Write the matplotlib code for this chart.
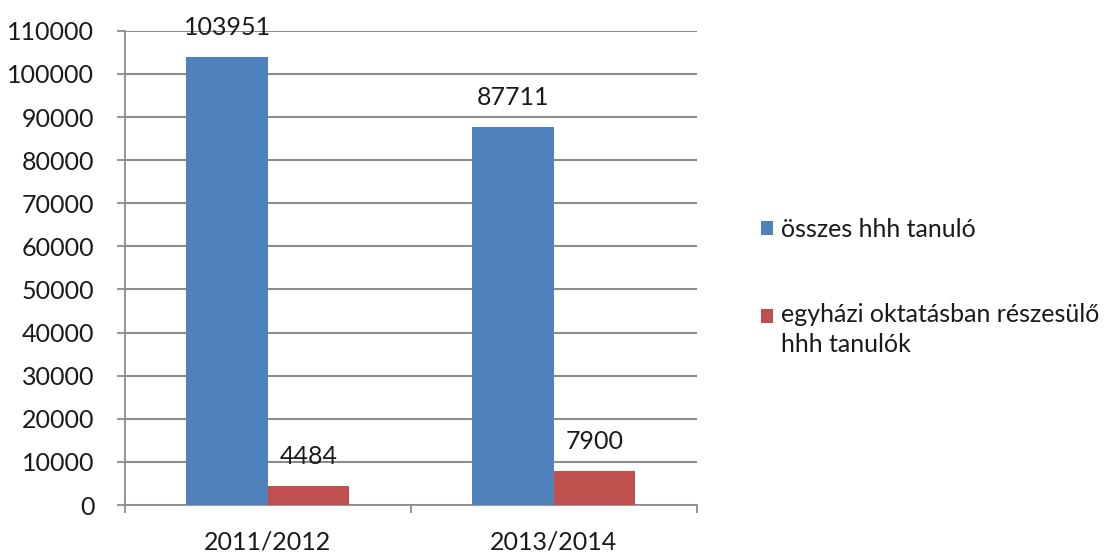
import matplotlib.pyplot as plt
import numpy as np

plt.rcParams['font.family'] = ['Lato', 'DejaVu Sans']

categories = ["2011/2012", "2013/2014"]
series_names = ["összes hhh tanuló", "egyházi oktatásban részesülő\nhhh tanulók"]
osszes = [103951, 87711]
egyhazi = [4484, 7900]
yticks = list(range(0, 110001, 10000))

blue = "#4F81BD"
red = "#C0504D"
grid_col = "#8C8C8C"
fs = 18

fig = plt.figure(figsize=(11.15, 5.54), dpi=100)
ax = fig.add_axes([0.112, 0.0884, 0.513, 0.856])

x = np.arange(len(categories))
w = 0.285
b1 = ax.bar(x - w / 2, osszes, width=w, color=blue, label=series_names[0], zorder=3)
b2 = ax.bar(x + w / 2, egyhazi, width=w, color=red, label=series_names[1], zorder=3)

for bars, vals in [(b1, osszes), (b2, egyhazi)]:
    for r, v in zip(bars, vals):
        ax.annotate(str(v), (r.get_x() + r.get_width() / 2, v), xytext=(0, 21),
                    textcoords="offset points", ha="center", va="center",
                    fontsize=fs, color="#1a1a1a", zorder=4)

ax.set_xlim(-0.5, 1.5)
ax.set_ylim(0, 110000)
ax.set_yticks(yticks)
ax.set_yticklabels([str(t) for t in yticks], fontsize=fs, color="#1a1a1a")
ax.set_xticks(x)
ax.set_xticklabels(categories, fontsize=fs, color="#1a1a1a")
ax.set_xticks([-0.5, 0.5, 1.5], minor=True)
ax.tick_params(axis="x", which="major", length=0, pad=18)
ax.tick_params(axis="x", which="minor", length=6, color=grid_col, width=1.3)
ax.tick_params(axis="y", length=6, color=grid_col, width=1.3, pad=16)

ax.yaxis.grid(True, color=grid_col, linewidth=1.5, zorder=0)
for s in ["top", "right"]:
    ax.spines[s].set_visible(False)
for s in ["left", "bottom"]:
    ax.spines[s].set_color(grid_col)
    ax.spines[s].set_linewidth(1.3)

leg = fig.legend(handles=[b1, b2], loc="upper left", bbox_to_anchor=(0.662, 0.648),
                 frameon=False, fontsize=fs, handlelength=0.5, handleheight=0.5,
                 handletextpad=0.3, labelspacing=2.5, labelcolor="#1a1a1a")
for t in leg.get_texts():
    t.set_linespacing(1.35)
# square of the two-line entry sits next to its first line
h2 = leg.legend_handles[1]
h2.set_y(h2.get_y() + 10)

fig.savefig("out.png", dpi=100)
